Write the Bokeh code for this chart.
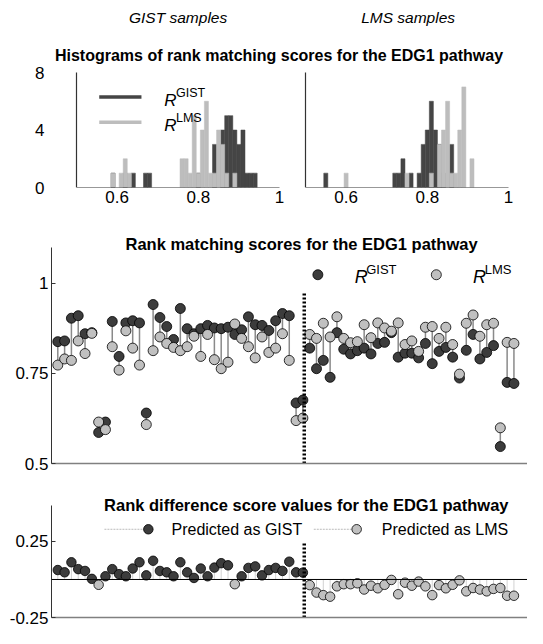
import numpy as np
from bokeh.plotting import figure
from bokeh.layouts import column
from bokeh.models import Range1d, Label, FixedTicker, CustomJSTickFormatter, Span
from bokeh.embed import file_html
from bokeh.resources import INLINE

# ---------------- data ----------------
n_gist = 37  # samples 1..37 are GIST, 38..68 are LMS
r_gist = [0.838, 0.840, 0.903, 0.910, 0.860, 0.863, 0.586, 0.615, 0.894, 0.797,
          0.890, 0.896, 0.890, 0.640, 0.941, 0.905, 0.880, 0.844, 0.930, 0.874,
          0.860, 0.874, 0.883, 0.876, 0.874, 0.878, 0.858, 0.871, 0.907, 0.885,
          0.883, 0.869, 0.896, 0.916, 0.910, 0.668, 0.676,
          0.820, 0.763, 0.786, 0.739, 0.863, 0.817, 0.804, 0.813, 0.820, 0.804,
          0.833, 0.836, 0.863, 0.795, 0.806, 0.806, 0.793, 0.833, 0.777, 0.811,
          0.822, 0.795, 0.737, 0.814, 0.858, 0.790, 0.808, 0.827, 0.547, 0.725, 0.722]
r_lms = [0.773, 0.790, 0.786, 0.840, 0.805, 0.861, 0.615, 0.594, 0.824, 0.759,
         0.868, 0.820, 0.773, 0.608, 0.813, 0.851, 0.833, 0.822, 0.813, 0.824,
         0.853, 0.797, 0.858, 0.788, 0.763, 0.781, 0.887, 0.847, 0.824, 0.793,
         0.851, 0.808, 0.820, 0.860, 0.786, 0.619, 0.626,
         0.858, 0.847, 0.889, 0.851, 0.907, 0.847, 0.835, 0.838, 0.885, 0.849,
         0.890, 0.876, 0.867, 0.890, 0.830, 0.840, 0.811, 0.878, 0.880, 0.847,
         0.878, 0.830, 0.748, 0.889, 0.912, 0.853, 0.885, 0.889, 0.599, 0.836, 0.833]
rank_diff = [0.062, 0.047, 0.113, 0.068, 0.056, 0.004, -0.035, 0.021, 0.068, 0.035,
             0.021, 0.072, 0.113, 0.027, 0.123, 0.056, 0.047, 0.021, 0.113, 0.047,
             0.010, 0.072, 0.021, 0.078, 0.107, 0.093, -0.031, 0.021, 0.076, 0.086,
             0.027, 0.062, 0.076, 0.056, 0.117, 0.047, 0.045,
             -0.037, -0.086, -0.103, -0.113, -0.045, -0.031, -0.031, -0.025, -0.066, -0.041,
             -0.058, -0.035, -0.003, -0.097, -0.021, -0.041, -0.014, -0.045, -0.103, -0.037,
             -0.058, -0.035, -0.006, -0.078, -0.056, -0.066, -0.078, -0.062, -0.056, -0.107, -0.107]
hist_bin_width = 0.01
hist_xticks = [0.6, 0.8, 1.0]
hist_yticks = [0, 4, 8]
score_ticks = [0.5, 0.75, 1.0]
diff_ticks = [-0.25, 0.25]

# ---------------- style ----------------
FONT = "Liberation Sans"
DARK = "#3c3c3c"
LIGHT = "#c0c0c0"
BAR_DARK = "#454545"
BAR_LIGHT = "#bdbdbd"
AX = "#333333"
TICK_FS = "17px"

sample_ids = np.arange(1, len(r_gist) + 1)
r_gist_a = np.array(r_gist)
r_lms_a = np.array(r_lms)
diff_a = np.array(rank_diff)

# every figure shares the same frame: x 51..527 px (Bokeh aligns column frames)
W = 527
FL = 51
FW = W - FL


def base_fig(h, xr, yr, mbt, mbb):
    p = figure(width=W, height=h, x_range=xr, y_range=yr, output_backend="svg",
               toolbar_location=None, min_border_left=FL, min_border_right=0,
               min_border_top=mbt, min_border_bottom=mbb)
    p.grid.visible = False
    p.outline_line_color = None
    p.background_fill_color = "white"
    p.border_fill_color = "white"
    return p


def style_axis(ax, ticks, tick_in=0, standoff=4, color=AX, width=1.0, code="return tick.toString();"):
    ax.ticker = FixedTicker(ticks=list(ticks))
    ax.formatter = CustomJSTickFormatter(code=code)
    ax.major_tick_in = tick_in
    ax.major_tick_out = 0
    ax.minor_tick_in = 0
    ax.minor_tick_out = 0
    ax.major_label_standoff = standoff
    ax.major_label_text_font = FONT
    ax.major_label_text_font_size = TICK_FS
    ax.major_label_text_color = "black"
    ax.axis_line_color = color
    ax.axis_line_width = width
    ax.major_tick_line_color = color


def lab(p, x, y, text, size="16px", style="normal", align="left", baseline="middle"):
    p.add_layout(Label(x=x, y=y, text=text, text_font=FONT, text_font_size=size,
                       text_font_style=style, text_align=align, text_baseline=baseline,
                       text_color="black"))


# ---------------- top: both histograms in one figure ----------------
# panels at 76..279 px and 305..508 px, counts 0..8 occupy 72..187 px
H_PX = 406.0
H_CNT = 115.0 / 8
left_start = 0.5 - (76 - FL) / H_PX
right_start = 0.5 - (305 - FL) / H_PX
h_gap = left_start - right_start
top = base_fig(213, Range1d(left_start, left_start + FW / H_PX),
               Range1d(0, 8 + 72 / H_CNT), 0, 26)
top.extra_x_ranges = {"r": Range1d(right_start, right_start + FW / H_PX)}

bin_edges = np.round(np.arange(0.495, 1.0051, hist_bin_width), 3)


def add_hist(vals_dark, vals_light, rng):
    cd = np.histogram(vals_dark, bins=bin_edges)[0]
    cl = np.histogram(vals_light, bins=bin_edges)[0]
    md, ml = cd > 0, cl > 0
    top.quad(left=bin_edges[:-1][md], right=bin_edges[1:][md], bottom=0, top=cd[md],
             fill_color=BAR_DARK, line_color=BAR_DARK, line_width=0.5, x_range_name=rng)
    top.quad(left=bin_edges[:-1][ml], right=bin_edges[1:][ml], bottom=0, top=cl[ml],
             fill_color=BAR_LIGHT, line_color=BAR_LIGHT, line_width=0.5, x_range_name=rng)
    # axis lines of this panel (score axis 0.5..1, count axis 0..8)
    top.line(x=[0.5, 1.0], y=[0, 0], line_color=AX, line_width=1.2, x_range_name=rng)
    top.line(x=[0.5, 0.5], y=[0, 8], line_color=AX, line_width=1.2, x_range_name=rng)


add_hist(r_gist_a[:n_gist], r_lms_a[:n_gist], "default")
add_hist(r_gist_a[n_gist:], r_lms_a[n_gist:], "r")

tick_pos = list(hist_xticks) + [t + h_gap for t in hist_xticks]
style_axis(top.xaxis[0], tick_pos, standoff=3, color=None,
           code="var v = tick > 1.03 ? tick - %.6f : tick; return String(Math.round(v*10)/10);" % h_gap)
style_axis(top.yaxis[0], hist_yticks, standoff=7, color=None)

# histogram legend
top.line(x=[0.556, 0.66], y=[6.3, 6.3], line_color=BAR_DARK, line_width=3.5)
top.line(x=[0.556, 0.66], y=[4.54, 4.54], line_color=BAR_LIGHT, line_width=3.5)
lab(top, 0.716, 6.05, "R", size="17px", style="italic")
lab(top, 0.745, 6.6, "GIST", size="12.5px")
lab(top, 0.716, 4.3, "R", size="17px", style="italic")
lab(top, 0.745, 4.85, "LMS", size="12.5px")

# header texts above the histograms
lab(top, 0.5 + (177.6 - 76) / H_PX, 8 + (72 - 16.6) / H_CNT, "GIST samples",
    size="15.5px", style="italic", align="center")
lab(top, 0.5 + (407.6 - 76) / H_PX, 8 + (72 - 16.6) / H_CNT, "LMS samples",
    size="15.5px", style="italic", align="center")
lab(top, 0.5 + (278.5 - 76) / H_PX, 8 + (72 - 54.6) / H_CNT,
    "Histograms of rank matching scores for the EDG1 pathway",
    size="16px", style="bold", align="center")

# ---------------- middle panel: rank matching scores ----------------
PX_PER_SAMPLE = 6.808
X0 = 1 - (57.3 - FL) / PX_PER_SAMPLE
X1 = X0 + FW / PX_PER_SAMPLE
mid_px_per_unit = (463 - 246.7) / 0.6
mid = base_fig(262, Range1d(X0, X1), Range1d(0.5, 0.5 + 235 / mid_px_per_unit), 15, 12)
style_axis(mid.yaxis[0], score_ticks, tick_in=4, standoff=3)
mid.yaxis[0].bounds = (0.5, 1.1)
style_axis(mid.xaxis[0], [], standoff=0, color="#808080", width=1.6)

mid.segment(x0=sample_ids, y0=r_gist_a, x1=sample_ids, y1=r_lms_a,
            line_color="#8a8a8a", line_width=1.5)
mid.scatter(sample_ids, r_gist_a, size=10, fill_color=DARK, line_color="black", line_width=0.8)
mid.scatter(sample_ids, r_lms_a, size=10, fill_color=LIGHT, line_color="black", line_width=0.8)

divider = n_gist + 0.2
mid.segment(x0=[divider], y0=[0.5], x1=[divider], y1=[0.973],
            line_color="black", line_width=3.5, line_dash="2 2")

lab(mid, 36.8, 1.11, "Rank matching scores for the EDG1 pathway",
    size="16.5px", style="bold", align="center")
mid.scatter([39.2], [1.0236], size=10, fill_color=DARK, line_color="black", line_width=0.8)
lab(mid, 44.6, 1.016, "R", size="18px", style="italic")
lab(mid, 46.3, 1.038, "GIST", size="13px")
mid.scatter([56.6], [1.0236], size=10, fill_color=LIGHT, line_color="black", line_width=0.8)
lab(mid, 62.0, 1.016, "R", size="18px", style="italic")
lab(mid, 63.7, 1.038, "LMS", size="13px")

# ---------------- bottom panel: rank difference scores ----------------
bot_axis_top = 0.485
bot_px_per_unit = (617 - 505.2) / (bot_axis_top + 0.25)
bot = base_fig(152, Range1d(X0, X1), Range1d(-0.25, -0.25 + 125 / bot_px_per_unit), 17, 10)
style_axis(bot.yaxis[0], diff_ticks, tick_in=4, standoff=3)
bot.yaxis[0].bounds = (-0.25, bot_axis_top)
style_axis(bot.xaxis[0], [], standoff=0, color="#808080", width=1.6)

bot.segment(x0=sample_ids, y0=0, x1=sample_ids, y1=diff_a, line_color="#d2d2d2", line_width=1)
bot.add_layout(Span(location=0, dimension="width", line_color="black", line_width=1))
pos = diff_a > 0
bot.scatter(sample_ids[pos], diff_a[pos], size=9.5, fill_color=DARK, line_color="black", line_width=0.8)
bot.scatter(sample_ids[~pos], diff_a[~pos], size=9.5, fill_color=LIGHT, line_color="black", line_width=0.8)
bot.segment(x0=[divider], y0=[-0.25], x1=[divider], y1=[0.244],
            line_color="black", line_width=3.5, line_dash="2 2")

lab(bot, 37.5, 0.492, "Rank difference score values for the EDG1 pathway",
    size="16.5px", style="bold", align="center")
leg_y = 0.33
bot.line(x=[7.85, 14.0], y=[leg_y, leg_y], line_color="#bbbbbb", line_width=1, line_dash="2 1")
bot.scatter([14.3], [leg_y], size=9.5, fill_color=DARK, line_color="black", line_width=0.8)
lab(bot, 17.7, leg_y, "Predicted as GIST", size="16px")
bot.line(x=[38.6, 44.6], y=[leg_y, leg_y], line_color="#bbbbbb", line_width=1, line_dash="2 1")
bot.scatter([44.9], [leg_y], size=9.5, fill_color=LIGHT, line_color="black", line_width=0.8)
lab(bot, 48.6, leg_y, "Predicted as LMS", size="16px")

layout = column(top, mid, bot)
open("out.html", "w").write(file_html(layout, INLINE))
